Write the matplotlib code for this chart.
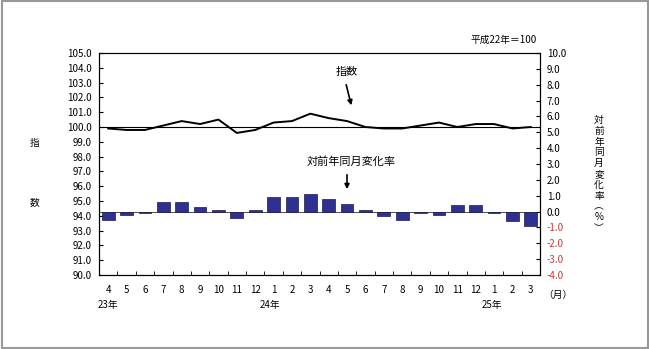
import matplotlib
matplotlib.use("Agg")
import matplotlib.pyplot as plt
from matplotlib.patches import Rectangle
import numpy as np

plt.rcParams['font.family'] = ['Noto Sans CJK JP', 'DejaVu Sans']

# 月ラベル（23年4月～25年3月）
months = ['4', '5', '6', '7', '8', '9', '10', '11', '12', '1', '2', '3',
          '4', '5', '6', '7', '8', '9', '10', '11', '12', '1', '2', '3']
# 指数（平成22年=100）
index_vals = [99.9, 99.8, 99.8, 100.1, 100.4, 100.2, 100.5, 99.6, 99.8, 100.3, 100.4, 100.9,
              100.6, 100.4, 100.0, 99.9, 99.9, 100.1, 100.3, 100.0, 100.2, 100.2, 99.9, 100.0]
# 対前年同月変化率（%）
change_vals = [-0.5, -0.2, -0.1, 0.6, 0.6, 0.3, 0.1, -0.4, 0.1, 0.9, 0.9, 1.1,
               0.8, 0.5, 0.1, -0.3, -0.5, -0.1, -0.2, 0.4, 0.4, -0.1, -0.6, -0.9]
year_labels = ['23年', '24年', '25年']
year_pos = [0, 8.8, 20.9]

x = np.arange(len(months))

fig = plt.figure(figsize=(6.5, 3.49), dpi=100)
ax1 = fig.add_axes([99 / 650, 1 - 275 / 349, 441 / 650, 222 / 349])
ax2 = ax1.twinx()

# 指数（左軸）
ax1.axhline(100, color='black', lw=0.8, zorder=1)
ax1.plot(x, index_vals, color='black', lw=1.4, zorder=3)
ax1.set_ylim(90, 105)
ax1.set_yticks(np.arange(90, 105.1, 1))
ax1.set_yticklabels([f'{v:.1f}' for v in np.arange(90, 105.1, 1)])
ax1.set_xlim(-0.5, len(months) - 0.5)
ax1.set_xticks(x)
ax1.set_xticklabels(months)
ax1.set_xticks(np.arange(-0.5, len(months), 1), minor=True)
ax1.tick_params(axis='x', which='major', length=0, pad=7, labelsize=7)
ax1.tick_params(axis='x', which='minor', direction='in', length=3)
ax1.tick_params(axis='y', direction='in', length=3, pad=5, labelsize=7)

# 変化率（右軸）
ax2.bar(x, change_vals, width=0.7, color='#2E3192', edgecolor='#1a1a4a', lw=0.5, zorder=2)
ax2.axhline(0, color='#333333', lw=0.6, zorder=1)
ax2.set_ylim(-4, 10)
rticks = np.arange(-4, 10.1, 1)
ax2.set_yticks(rticks)
ax2.set_yticklabels([f'{v:.1f}' for v in rticks])
for lab, v in zip(ax2.get_yticklabels(), rticks):
    if v < 0:
        lab.set_color('#C83A3A')
ax2.tick_params(axis='y', direction='in', length=3, pad=5, labelsize=7)

for ax in (ax1, ax2):
    for s in ax.spines.values():
        s.set_linewidth(0.8)

# 年ラベル
for lab, pos in zip(year_labels, year_pos):
    ax1.text(pos, -0.135, lab, transform=ax1.get_xaxis_transform(),
             ha='center', va='center', fontsize=7)
ax1.text(1.04, -0.09, '（月）', transform=ax1.transAxes, ha='center', va='center', fontsize=7)

# 軸タイトル
fig.text(35 / 650, 1 - 143 / 349, '指', ha='center', va='center', fontsize=7)
fig.text(35 / 650, 1 - 202 / 349, '数', ha='center', va='center', fontsize=7)
fig.text(599 / 650, 1 - 174 / 349, '\n'.join('対前年同月変化率︵%︶'), ha='center', va='center',
         fontsize=7, linespacing=1.1)
fig.text(537 / 650, 1 - 40 / 349, '平成22年＝100', ha='right', va='center', fontsize=7)

# 注記と矢印
ax1.annotate('', xy=(352, 349 - 108), xycoords='figure pixels',
             xytext=(345.5, 349 - 82), textcoords='figure pixels',
             arrowprops=dict(arrowstyle='-|>', color='black', lw=1.2, mutation_scale=7))
fig.text(347 / 650, 1 - 72 / 349, '指数', ha='center', va='center', fontsize=8)
ax1.annotate('', xy=(347, 349 - 192), xycoords='figure pixels',
             xytext=(347, 349 - 172), textcoords='figure pixels',
             arrowprops=dict(arrowstyle='-|>', color='black', lw=1.2, mutation_scale=7))
fig.text(351 / 650, 1 - 161 / 349, '対前年同月変化率', ha='center', va='center', fontsize=8)

# 外枠
fig.patches.append(Rectangle((0.003, 0.004), 0.994, 0.992, transform=fig.transFigure,
                             fill=False, edgecolor='#999999', lw=1.5))

fig.savefig('out.png', dpi=100)
